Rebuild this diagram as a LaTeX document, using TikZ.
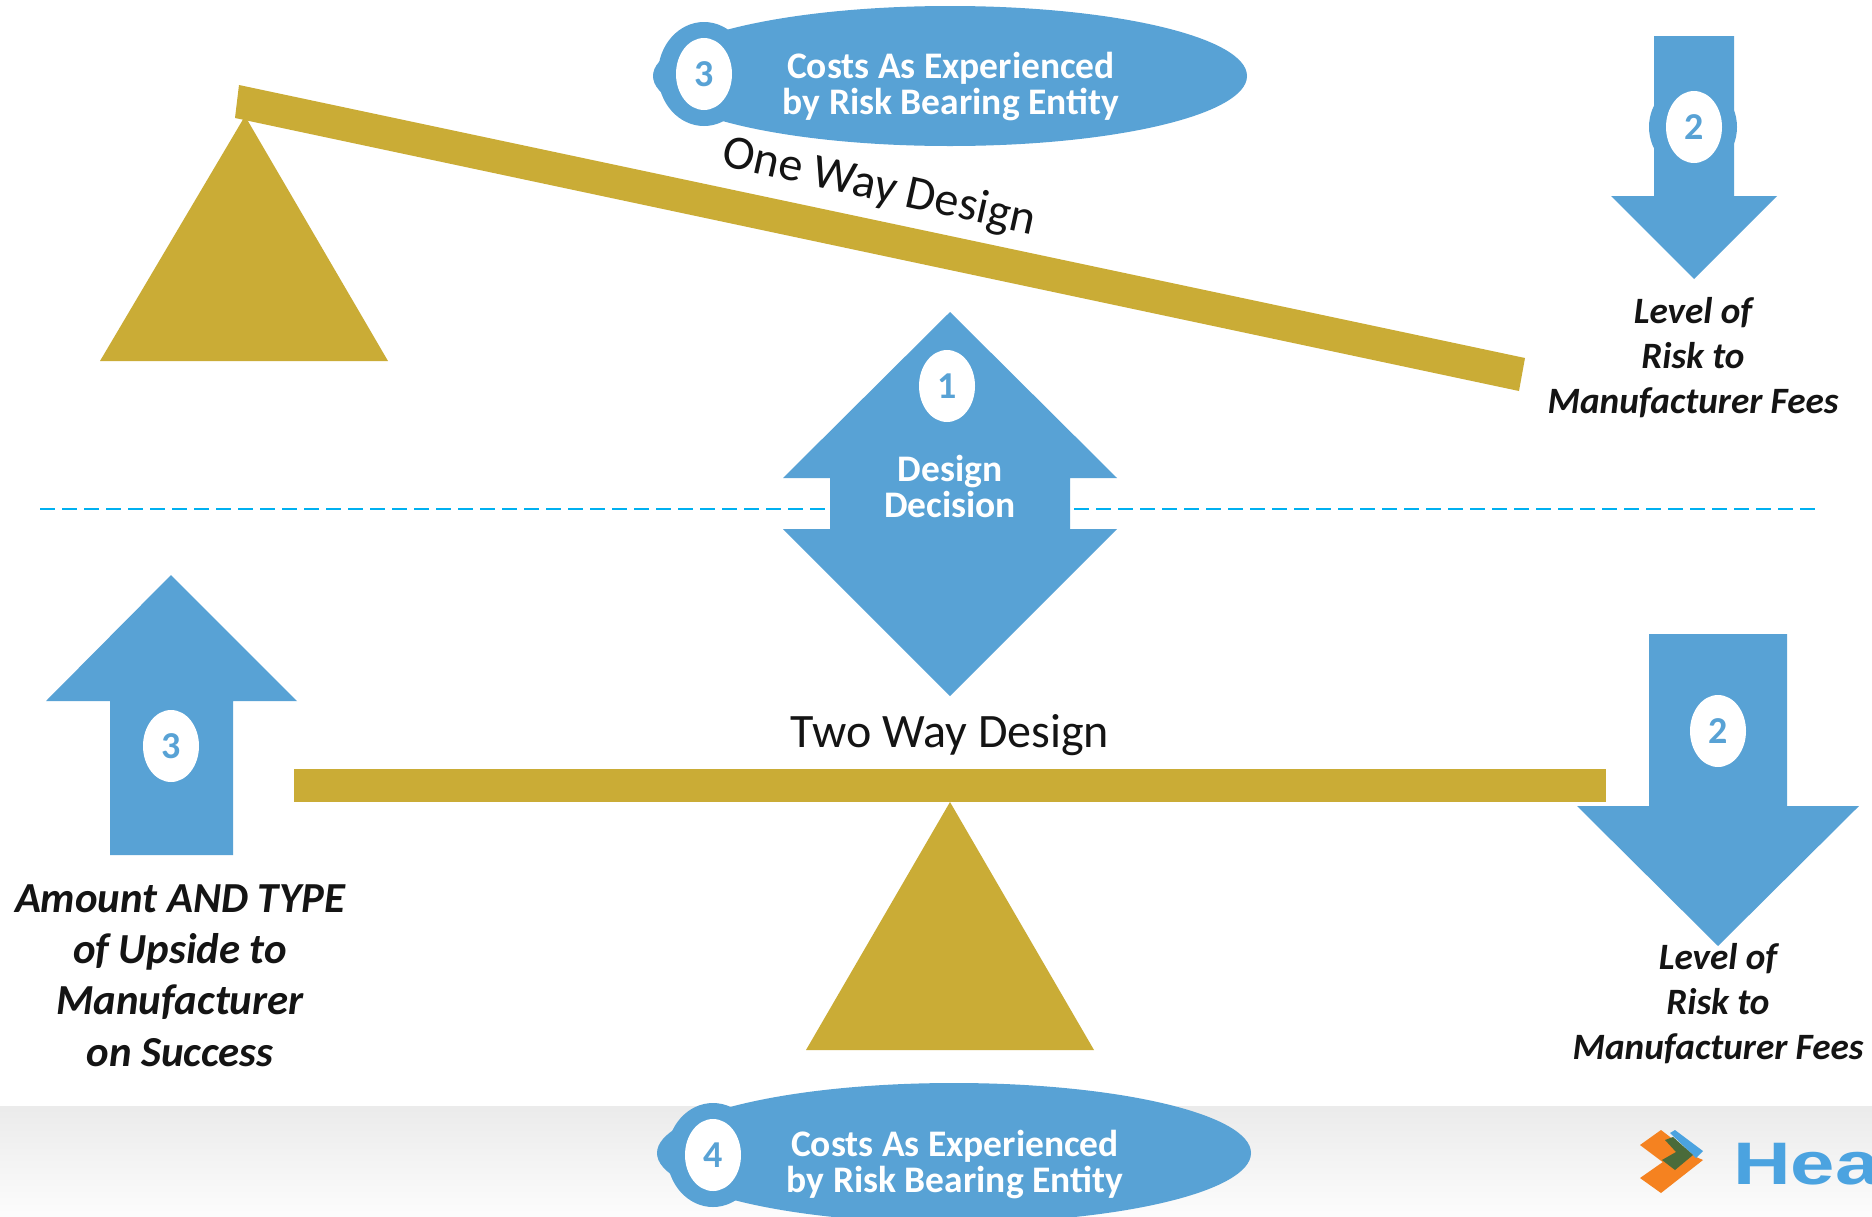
\documentclass[tikz,border=0pt]{standalone}
\usepackage{fontspec}
\setmainfont{Carlito}
\newfontfamily\logofont{Liberation Sans}
\definecolor{bluefill}{HTML}{58A2D5}
\definecolor{goldfill}{HTML}{CAAC36}
\definecolor{dashblue}{HTML}{00B0F0}
\definecolor{inkdark}{HTML}{141414}
\definecolor{logoblue}{HTML}{4BA3E0}
\definecolor{logoorange}{HTML}{F58220}
\definecolor{logogreen}{HTML}{4A6B3A}
\tikzset{
  bluebody/.style={fill=bluefill,draw=none},
  goldbody/.style={fill=goldfill,draw=none},
  dashrule/.style={draw=dashblue,line width=2pt,dash pattern=on 15pt off 7pt},
  badge/.style={ellipse,fill=white,minimum width=56pt,minimum height=72pt,inner sep=0pt,text=bluefill,font=\fontsize{38}{38}\selectfont\bfseries},
  whitelabel/.style={align=center,text=white,font=\fontsize{37.5}{36}\selectfont\bfseries,inner sep=0pt},
  risklabel/.style={align=center,text=inkdark,font=\fontsize{37.2}{45}\selectfont\bfseries\itshape,inner sep=0pt},
  titlelabel/.style={text=inkdark,font=\fontsize{48}{48}\selectfont,inner sep=0pt},
}
\usetikzlibrary{shapes.geometric}
\begin{document}
\begin{tikzpicture}[x=1pt,y=-1pt]
\useasboundingbox (0,0) rectangle (1872,1216);
\fill[white] (0,0) rectangle (1872,1216);
% footer
\shade[top color=black!8,bottom color=black!1] (0,1106) rectangle (1872,1216);
% logo
\begin{scope}
\clip (0,0) rectangle (1872,1216);
\fill[logoorange] (1640,1145) -- (1661,1130) -- (1700,1160) -- (1680,1175) -- cycle;
\fill[logoorange] (1640,1178) -- (1680,1150) -- (1703,1160) -- (1661,1193) -- cycle;
\fill[logoblue] (1670,1133) -- (1675,1130) -- (1703,1151) -- (1696,1158) -- cycle;
\fill[logogreen] (1665,1140) -- (1673,1137) -- (1693,1155) -- (1675,1170) -- (1662,1160) -- (1676,1152) -- cycle;
\node[anchor=base west,inner sep=0pt,text=logoblue,font=\logofont\bfseries\fontsize{60}{60}\selectfont,xscale=1.33] (logotext) at (1733,1184) {Hea};
\end{scope}
% dashed rule
\coordinate (ruleA) at (40,509);
\coordinate (ruleB) at (827,509);
\coordinate (ruleC) at (1074,509);
\coordinate (ruleD) at (1817,509);
\draw[dashrule] (ruleA) -- (ruleB);
\draw[dashrule] (ruleC) -- (ruleD);
% top scale
\fill[goldbody] (239,85) -- (1525,358) -- (1519,391) -- (235,118) -- cycle;
\fill[goldbody] (245,116) -- (100,361) -- (388,361) -- cycle;
% bottom scale
\fill[goldbody] (294,769) rectangle (1606,802);
\fill[goldbody] (950,802) -- (806,1050) -- (1094,1050) -- cycle;
% top pill
\fill[bluebody] (950,76) ellipse [x radius=297,y radius=70];
\fill[bluebody] (704,74) ellipse [x radius=46,y radius=52];
\node[badge] (b3top) at (704,74) {3};
\node[whitelabel] (costsTop) at (951,87) {Costs As Experienced\\by Risk Bearing Entity};
% bottom pill
\fill[bluebody] (954,1153) ellipse [x radius=297,y radius=70];
\fill[bluebody] (713,1155) ellipse [x radius=46,y radius=52];
\node[badge] (b4) at (713,1155) {4};
\node[whitelabel] (costsBot) at (955,1165) {Costs As Experienced\\by Risk Bearing Entity};
% top right arrow
\fill[bluebody] (1654,36) -- (1734,36) -- (1734,196) -- (1777,196) -- (1694,279) -- (1611,196) -- (1654,196) -- cycle;
\fill[bluebody] (1693,127) ellipse [x radius=44,y radius=46];
\node[badge] (b2top) at (1694,127) {2};
% centre double arrow
\fill[bluebody] (950,312) -- (1117,478) -- (1070,478) -- (1070,529) -- (1117,529) -- (950,696) -- (783,529) -- (830,529) -- (830,478) -- (783,478) -- cycle;
\node[badge] (b1) at (947,386) {1};
\node[whitelabel] (decision) at (950,486) {Design\\Decision};
% bottom left arrow
\fill[bluebody] (171,575) -- (297,701) -- (233,701) -- (233,855) -- (110,855) -- (110,701) -- (46,701) -- cycle;
\node[badge] (b3low) at (171,746) {3};
% bottom right arrow
\fill[bluebody] (1649,634) -- (1787,634) -- (1787,806) -- (1859,806) -- (1718,946) -- (1577,806) -- (1649,806) -- cycle;
\node[badge] (b2low) at (1718,731) {2};
% titles
\node[titlelabel,rotate=-12.5] (oneway) at (879,188) {One Way Design};
\node[titlelabel] (twoway) at (950,735) {Two Way Design};
% italic labels
\node[risklabel] (riskTop) at (1693,358) {Level of\\Risk to\\Manufacturer Fees};
\node[risklabel] (riskLow) at (1718,1004) {Level of\\Risk to\\Manufacturer Fees};
\node[risklabel,font=\fontsize{42.8}{51.3}\selectfont\bfseries\itshape] (upside) at (180,975.5) {Amount AND TYPE\\of Upside to\\Manufacturer\\on Success};
\end{tikzpicture}
\end{document}
